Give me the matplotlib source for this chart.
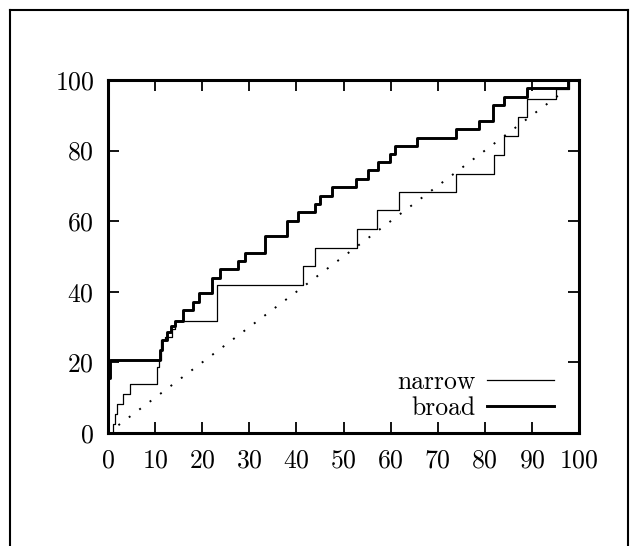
import matplotlib
matplotlib.use("Agg")
import matplotlib.pyplot as plt
from matplotlib.lines import Line2D

plt.rcParams["font.family"] = ["cmr10", "DejaVu Serif"]
plt.rcParams["axes.formatter.use_mathtext"] = True

# Cumulative percentages (step positions and the level reached after each step)
narrow_x = [0.9, 1.1, 1.5, 1.9, 3.1, 4.7, 10.5, 10.8, 11.3, 12.1, 13.5, 14.3,
            23.1, 41.5, 43.9, 52.8, 57.2, 61.8, 73.9, 82.0, 84.1, 87.0, 88.9,
            95.1, 97.8]
narrow_y = [0.0, 2.6, 5.3, 8.2, 11.0, 13.9, 18.6, 20.6, 26.3, 27.3, 29.5, 31.6,
            42.0, 47.2, 52.5, 57.7, 63.1, 68.3, 73.5, 78.8, 84.2, 89.4, 94.6,
            97.5, 100.0]

broad_x = [0.0, 0.5, 11.0, 11.5, 12.5, 13.3, 14.2, 16.0, 18.1, 19.3, 22.0, 23.8,
           27.5, 29.1, 33.3, 38.0, 40.4, 44.0, 45.0, 47.5, 52.7, 55.1, 57.4,
           59.9, 60.9, 65.5, 73.9, 78.8, 81.8, 84.1, 88.9, 97.7]
broad_y = [15.6, 20.8, 23.5, 26.3, 28.5, 30.2, 31.6, 34.8, 37.2, 39.6, 43.8, 46.4,
           48.6, 51.1, 55.8, 60.1, 62.5, 64.9, 67.2, 69.7, 71.9, 74.4, 76.7,
           79.0, 81.2, 83.6, 86.0, 88.3, 92.9, 95.3, 97.6, 100.0]

diag = [0, 100]
x_ticks = [0, 10, 20, 30, 40, 50, 60, 70, 80, 90, 100]
y_ticks = [0, 20, 40, 60, 80, 100]

W, H = 638, 546
fig = plt.figure(figsize=(W / 100, H / 100), dpi=100)
ax = fig.add_axes([108 / W, 113 / H, 471 / W, 353 / H])

ax.plot(diag, diag, color="black", lw=1.4, dashes=(1, 5.7),
        dash_capstyle="butt", solid_capstyle="butt")
ax.step(narrow_x, narrow_y, where="post", color="black", lw=0.9,
        label="narrow")
ax.step(broad_x, broad_y, where="post", color="black", lw=2.1,
        label="broad")

ax.set_xlim(0, 100)
ax.set_ylim(0, 100)
ax.set_xticks(x_ticks)
ax.set_yticks(y_ticks)
ax.tick_params(direction="in", length=8, width=1.3, top=True, right=True,
               labelsize=18.5, colors="black")
ax.tick_params(axis="x", pad=11)
ax.tick_params(axis="y", pad=10)
for s in ax.spines.values():
    s.set_linewidth(2.2)

ax.legend(loc="lower right", bbox_to_anchor=(0.985, -0.015), frameon=False,
          markerfirst=False, fontsize=18.5, handlelength=2.6,
          handletextpad=0.45, labelspacing=0.1, borderpad=0.2)

# page frame around the plot
frame_kw = dict(color="black", lw=1.5, transform=fig.transFigure)
fig.add_artist(Line2D([10 / W, 10 / W], [0, 1 - 10 / H], **frame_kw))
fig.add_artist(Line2D([10 / W, 628 / W], [1 - 10 / H, 1 - 10 / H], **frame_kw))
fig.add_artist(Line2D([628 / W, 628 / W], [0, 1 - 10 / H], **frame_kw))

fig.savefig("out.png", dpi=100)
